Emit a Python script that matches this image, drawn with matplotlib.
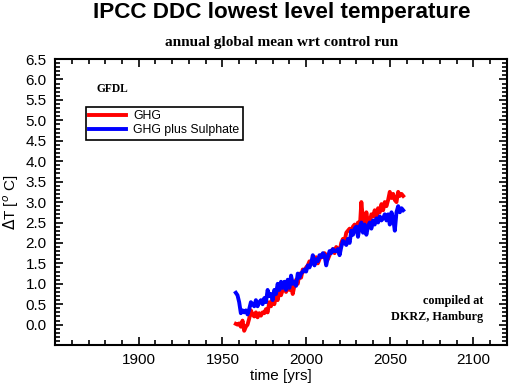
import numpy as np
import matplotlib.pyplot as plt
from matplotlib.ticker import MultipleLocator

# annual global mean, lowest level temperature wrt control run (GFDL)
years = np.arange(1958, 2059)
ghg = [0.02, 0.00, 0.03, -0.05, 0.10, -0.15, -0.05, 0.00, 0.15, 0.35,
       0.25, 0.20, 0.30, 0.18, 0.28, 0.22, 0.30, 0.28, 0.38, 0.30,
       0.55, 0.45, 0.65, 0.50, 0.70, 0.60, 0.80, 0.72, 0.85, 0.95,
       0.80, 1.00, 0.85, 0.95, 0.75, 0.95, 1.10, 1.00, 1.25, 1.15,
       1.35, 1.30, 1.40, 1.45, 1.55, 1.50, 1.60, 1.55, 1.65, 1.50,
       1.60, 1.70, 1.65, 1.75, 1.70, 1.60, 1.70, 1.80, 1.85, 1.75,
       1.90, 1.85, 1.80, 2.00, 2.10, 2.05, 2.25, 2.30, 2.35, 2.25,
       2.40, 2.45, 2.35, 2.50, 2.30, 3.00, 2.55, 2.40, 2.75, 2.45,
       2.50, 2.70, 2.65, 2.80, 2.60, 2.85, 2.75, 2.95, 2.80, 3.00,
       2.90, 3.05, 3.25, 3.10, 3.20, 3.05, 3.00, 3.25, 3.15, 3.20,
       3.15]
ghg_sul = [0.78, 0.72, 0.55, 0.28, 0.35, 0.30, 0.35, 0.25, 0.38, 0.55,
           0.50, 0.45, 0.60, 0.45, 0.55, 0.60, 0.50, 0.65, 0.55, 0.85,
           0.70, 0.75, 0.60, 0.85, 0.75, 1.00, 0.85, 1.05, 0.90, 1.05,
           0.85, 1.10, 0.90, 1.20, 1.00, 1.05, 0.95, 1.25, 1.15, 1.25,
           1.30, 1.35, 1.30, 1.45, 1.40, 1.50, 1.70, 1.45, 1.60, 1.55,
           1.70, 1.65, 1.75, 1.70, 1.45, 1.65, 1.80, 1.75, 1.85, 1.80,
           1.80, 1.85, 1.70, 1.90, 2.05, 2.00, 1.95, 2.10, 2.00, 2.30,
           2.20, 2.35, 2.40, 2.15, 2.40, 2.50, 2.25, 2.45, 2.20, 2.40,
           2.50, 2.35, 2.55, 2.45, 2.60, 2.50, 2.65, 2.55, 2.60, 2.70,
           2.55, 2.70, 2.45, 2.75, 2.60, 2.30, 2.75, 2.90, 2.75, 2.85,
           2.80]

plt.rc('font', family='Liberation Sans', size=11)
fig = plt.figure(figsize=(5.1, 3.86), dpi=100)
ax = fig.add_axes([0.108, 0.106, 0.886, 0.741])

ax.plot(years, ghg, color='#ff0000', lw=2.8, label='GHG')
ax.plot(years, ghg_sul, color='#0000ff', lw=2.8, label='GHG plus Sulphate')

ax.set_xlim(1850, 2120)
ax.set_ylim(-0.5, 6.5)
ax.set_xticks([1900, 1950, 2000, 2050, 2100])
ax.xaxis.set_minor_locator(MultipleLocator(10))
ax.set_yticks(np.arange(0, 6.51, 0.5))
ax.yaxis.set_minor_locator(MultipleLocator(0.1))
ax.yaxis.set_major_formatter(plt.FormatStrFormatter('%.1f'))
ax.tick_params(which='both', direction='in', top=True, right=True, width=1.2)
ax.tick_params(which='major', length=6, pad=6)
ax.tick_params(which='minor', length=3.5)
for s in ax.spines.values():
    s.set_linewidth(1.5)

ax.set_xlabel('time [yrs]', fontsize=11, labelpad=1)
ax.set_ylabel(r'$\Delta$T [$^{o}$ C]', fontsize=11, labelpad=3)

fig.text(0.553, 0.968, 'IPCC DDC lowest level temperature', ha='center', va='center',
         fontsize=16.2, fontweight='bold')
fig.text(0.553, 0.89, 'annual global mean wrt control run', ha='center', va='center',
         fontsize=11, fontweight='bold', family='Liberation Serif')

ax.text(0.092, 0.895, 'GFDL', transform=ax.transAxes, fontsize=8.3, fontweight='bold',
        family='Liberation Serif', va='center')
ax.text(0.948, 0.126, 'compiled at\nDKRZ, Hamburg', transform=ax.transAxes, fontsize=8.7,
        fontweight='bold', family='Liberation Serif', ha='right', va='center',
        linespacing=1.35)

leg = ax.legend(loc='upper left', bbox_to_anchor=(0.068, 0.833), fontsize=8.8,
                fancybox=False, edgecolor='black', framealpha=1, borderpad=0.3,
                handlelength=3.0, handletextpad=0.6, labelspacing=0.15,
                borderaxespad=0)
leg.get_frame().set_linewidth(1.2)

plt.savefig('out.png', dpi=100)
